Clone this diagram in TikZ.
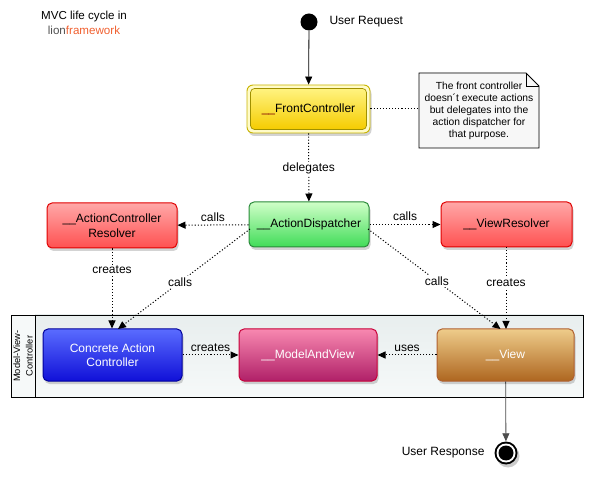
\documentclass[tikz,border=0pt]{standalone}
\usepackage{fontspec}
\setmainfont{Liberation Sans}
\usetikzlibrary{arrows.meta,shadows}
\definecolor{fcborder}{HTML}{C8B400}
\definecolor{fcring}{HTML}{FFFBC8}
\definecolor{fctop}{HTML}{FFF380}
\definecolor{fcbot}{HTML}{F5CC00}
\definecolor{adtop}{HTML}{D0FFC8}
\definecolor{adbot}{HTML}{40DC58}
\definecolor{adborder}{HTML}{2A8A3A}
\definecolor{rdtop}{HTML}{FFA8A8}
\definecolor{rdbot}{HTML}{FF5050}
\definecolor{rdborder}{HTML}{E00000}
\definecolor{butop}{HTML}{5A6CFF}
\definecolor{bubot}{HTML}{1010D8}
\definecolor{buborder}{HTML}{00009A}
\definecolor{mvtop}{HTML}{F888B0}
\definecolor{mvbot}{HTML}{B02068}
\definecolor{mvborder}{HTML}{C80038}
\definecolor{vwtop}{HTML}{EECC8A}
\definecolor{vwbot}{HTML}{AE6620}
\definecolor{vwborder}{HTML}{B06030}
\definecolor{lanetop}{HTML}{E8EEEE}
\definecolor{lanebot}{HTML}{F6F9F9}
\definecolor{lionorange}{HTML}{F06030}
\definecolor{liongray}{HTML}{505050}
\tikzset{
  base/.style={font=\fontsize{12}{14}\selectfont},
  box/.style={rounded corners=5pt, line width=1pt, align=center,
    drop shadow={shadow xshift=1.5pt, shadow yshift=-3pt, opacity=0.35},
    font=\fontsize{12}{14.5}\selectfont},
  redbox/.style={box, draw=rdborder, top color=rdtop, bottom color=rdbot,
    minimum width=130pt, minimum height=45pt},
  dots/.style={dash pattern=on 1.1pt off 2pt, line width=1pt},
  conn/.style={dots, -{Triangle[length=8pt,width=7pt]}},
  solidconn/.style={line width=0.8pt, -{Triangle[length=8pt,width=7pt]}},
  lbl/.style={font=\fontsize{12}{14}\selectfont, inner sep=1pt},
  onlbl/.style={lbl, fill=white, inner sep=1.5pt},
}
\begin{document}
\begin{tikzpicture}[x=1pt,y=-1pt,base]
\useasboundingbox (0,0) rectangle (595,489);

% title
\node[align=center, font=\fontsize{11.6}{15}\selectfont] (title) at (84,23)
  {MVC life cycle in\\{\color{liongray}lion}{\color{lionorange}framework}};

% swimlane
\shade[top color=lanetop, bottom color=lanebot] (35,315) rectangle (583,397);
\fill[lanebot] (11,315) rectangle (35,397);
\draw[line width=0.9pt] (11,315) rectangle (583,397);
\draw[line width=0.9pt] (35,315) -- (35,397);
\node[rotate=90, align=center, font=\fontsize{9.3}{12.5}\selectfont] (lane) at (23,356)
  {Model-View-\\Controller};

% start
\node[circle, fill=black, minimum size=17pt, inner sep=0pt] (start) at (309,22) {};
\node[anchor=west] (req) at (326,22) {User Request};

% front controller
\node[rounded corners=6pt, draw=fcborder, line width=0.9pt, fill=fcring,
  minimum width=123pt, minimum height=48pt,
  drop shadow={shadow xshift=1.5pt, shadow yshift=-3pt, opacity=0.35}] (fcout) at (308.5,109) {};
\node[rounded corners=4pt, draw=fcborder!80!black, line width=0.7pt,
  top color=fctop, bottom color=fcbot, minimum width=116pt, minimum height=41pt,
  font=\fontsize{12}{14}\selectfont] (fc) at (308.5,109) {{\color{red!50!black}\_\_}FrontController};

% note
\coordinate (nA) at (419,73);
\coordinate (nB) at (526,73);
\coordinate (nC) at (539,86);
\coordinate (nD) at (539,148);
\coordinate (nE) at (419,148);
\begin{scope}[yshift=-4pt, xshift=2pt]
\fill[black, opacity=0.25] (nA) -- (nB) -- (nC) -- (nD) -- (nE) -- cycle;
\end{scope}
\filldraw[draw=black, fill=gray!6, line width=0.8pt] (nA) -- (nB) -- (nC) -- (nD) -- (nE) -- cycle;
\draw[line width=0.8pt] (nB) -- (526,86) -- (nC);
\node[align=center, font=\fontsize{10.3}{12}\selectfont] (note) at (479,111)
  {The front controller\\doesn\textasciiacute t execute actions\\but delegates into the\\action dispatcher for\\that purpose.};

% second row
\node[box, draw=adborder, top color=adtop, bottom color=adbot,
  minimum width=120pt, minimum height=45pt] (ad) at (309,224.5) {\_\_ActionDispatcher};
\node[redbox] (acr) at (112,225.5) {\_\_ActionController\\Resolver};
\node[redbox, minimum width=131pt] (vr) at (506.5,224.5) {\_\_ViewResolver};

% third row
\node[box, draw=buborder, top color=butop, bottom color=bubot, text=white,
  minimum width=139pt, minimum height=52pt] (cac) at (112.5,355) {Concrete Action\\Controller};
\node[box, draw=mvborder, top color=mvtop, bottom color=mvbot, text=white,
  minimum width=138pt, minimum height=52pt] (mav) at (308,355) {\_\_ModelAndView};
\node[box, draw=vwborder, top color=vwtop, bottom color=vwbot, text=white,
  minimum width=137pt, minimum height=52pt] (view) at (505.5,355) {\_\_View};

% end
\node[circle, fill=black, minimum size=23pt, inner sep=0pt,
  drop shadow={shadow xshift=2pt, shadow yshift=-3pt, opacity=0.4}] (endo) at (506,453) {};
\node[circle, fill=white, minimum size=19pt, inner sep=0pt] (endw) at (506,453) {};
\node[circle, fill=black, minimum size=15pt, inner sep=0pt] (end) at (506,453) {};
\node[anchor=east] (resp) at (488,453) {User Response};

% connectors
\draw[solidconn] (start) -- (fcout);
\draw[dots] (fcout) -- (nE |- fcout);
\draw[conn] (fcout) -- node[onlbl, pos=0.52] {delegates} (ad);
\draw[conn] (ad) -- node[lbl, above=2pt] {calls} (acr);
\draw[conn] (ad) -- node[lbl, above=2pt] {calls} (vr);
\draw[conn] (acr) -- node[onlbl, pos=0.27] {creates} (acr |- cac.north);
\coordinate (adl) at (250,229);
\coordinate (adr) at (368,229);
\coordinate (cacin) at (118,329);
\coordinate (viewin) at (500.5,329);
\draw[conn] (adl) -- node[onlbl, pos=0.53] {calls} (cacin);
\draw[conn] (adr) -- node[onlbl, pos=0.52] {calls} (viewin);
\draw[conn] (506,247) -- node[onlbl, pos=0.43] {creates} (506,329);
\draw[conn] (cac) -- node[lbl, above=2pt] {creates} (mav);
\draw[conn] (view) -- node[lbl, above=2pt] {uses} (mav);
\draw[solidconn, draw=black!70] (view) -- (endo);
\end{tikzpicture}
\end{document}
